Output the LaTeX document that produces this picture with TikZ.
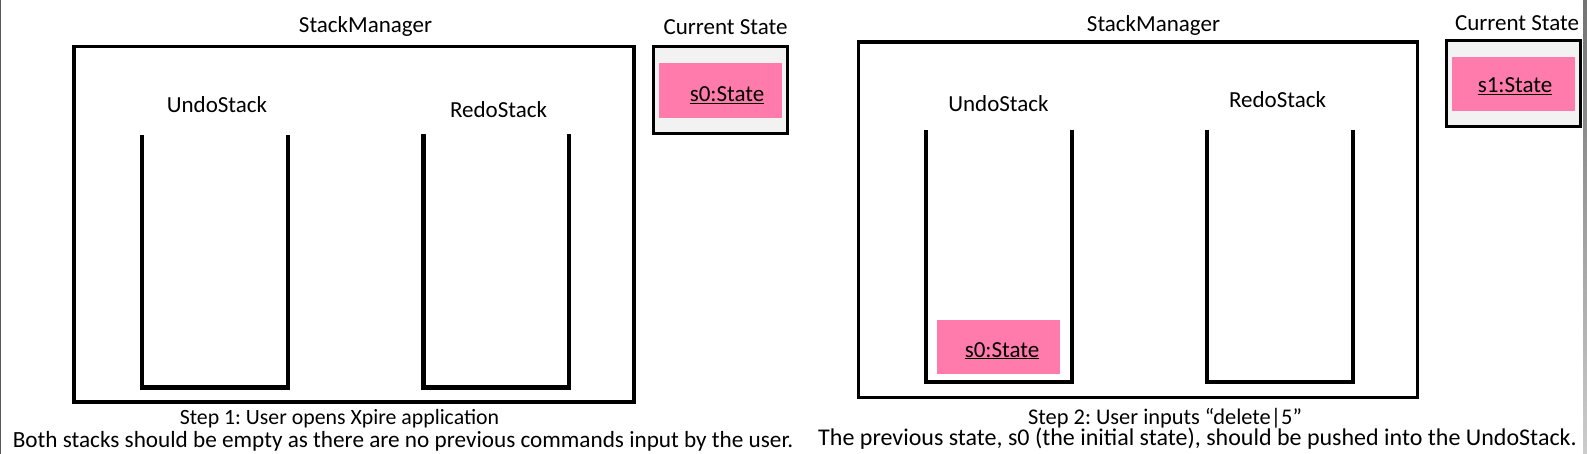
\documentclass[tikz,border=0pt]{standalone}
\usepackage{fontspec}
\setmainfont{Carlito}
\frenchspacing
\definecolor{pinkfill}{RGB}{255,123,172}
\definecolor{statebg}{RGB}{242,242,242}
\begin{document}
\begin{tikzpicture}[x=1pt,y=-1pt,
  lbl/.style={anchor=base, inner sep=0pt, font=\fontsize{23}{28}\selectfont},
  capt/.style={anchor=base, inner sep=0pt},
  smbox/.style={draw=black, line width=3.2pt},
  stackwall/.style={draw=black, line width=4.2pt, line join=miter},
  statebox/.style={draw=black, fill=statebg, line width=3pt},
  statecell/.style={fill=pinkfill},
  edgeline/.style={fill=black!65},
]
\useasboundingbox (0,0) rectangle (1587,454);
\fill[white] (0,0) rectangle (1587,454);
% window edges
\fill[edgeline] (0,0) rectangle (1.4,454);
\shade[top color=black!55, bottom color=black!20] (1583,0) rectangle (1587,454);

% ---------------- Panel 1 ----------------
\node[lbl] (sm1) at (365.5,33) {StackManager};
\draw[smbox] (74,46.5) rectangle (634,402);
\node[lbl] (undo1) at (217,113) {UndoStack};
\node[lbl] (redo1) at (498.5,118) {RedoStack};
\draw[stackwall] (142,135) -- (142,387.5) -- (288,387.5) -- (288,135);
\draw[stackwall] (423.5,134) -- (423.5,387.5) -- (569,387.5) -- (569,134);

\node[lbl] (cs1) at (725.5,35) {Current State};
\draw[statebox] (653,46.5) rectangle (787.5,133.5);
\fill[statecell] (659,63) rectangle (782,118);
\node[lbl] (st1) at (727,102) {\underline{s0:State}};

\node[capt, font=\fontsize{21.8}{26}\selectfont] (step1) at (339.5,424) {Step 1: User opens Xpire application};
\node[capt, font=\fontsize{23.2}{26}\selectfont] (desc1) at (403,447) {Both stacks should be empty as there are no previous commands input by the user.};

% ---------------- Panel 2 ----------------
\node[lbl] (sm2) at (1153.5,32) {StackManager};
\draw[smbox] (858.5,42) rectangle (1417.5,397.5);
\node[lbl] (undo2) at (998.5,112) {UndoStack};
\node[lbl] (redo2) at (1277.5,108) {RedoStack};
\draw[stackwall] (926,130) -- (926,382) -- (1072,382) -- (1072,130);
\draw[stackwall] (1207,130) -- (1207,382) -- (1353,382) -- (1353,130);
\fill[statecell] (937,320) rectangle (1060,374);
\node[lbl] (st0) at (1002,357) {\underline{s0:State}};

\node[lbl] (cs2) at (1517,31) {Current State};
\draw[statebox] (1446.5,40.5) rectangle (1580.5,126.5);
\fill[statecell] (1452,57) rectangle (1575,111);
\node[lbl] (st2) at (1515,93) {\underline{s1:State}};

\node[capt, font=\fontsize{22.4}{26}\selectfont] (step2) at (1165,424) {Step 2: User inputs “delete|5”};
\node[capt, font=\fontsize{24}{26}\selectfont] (desc2) at (1197.5,445) {The previous state, s0 (the initial state), should be pushed into the UndoStack.};
\end{tikzpicture}
\end{document}
